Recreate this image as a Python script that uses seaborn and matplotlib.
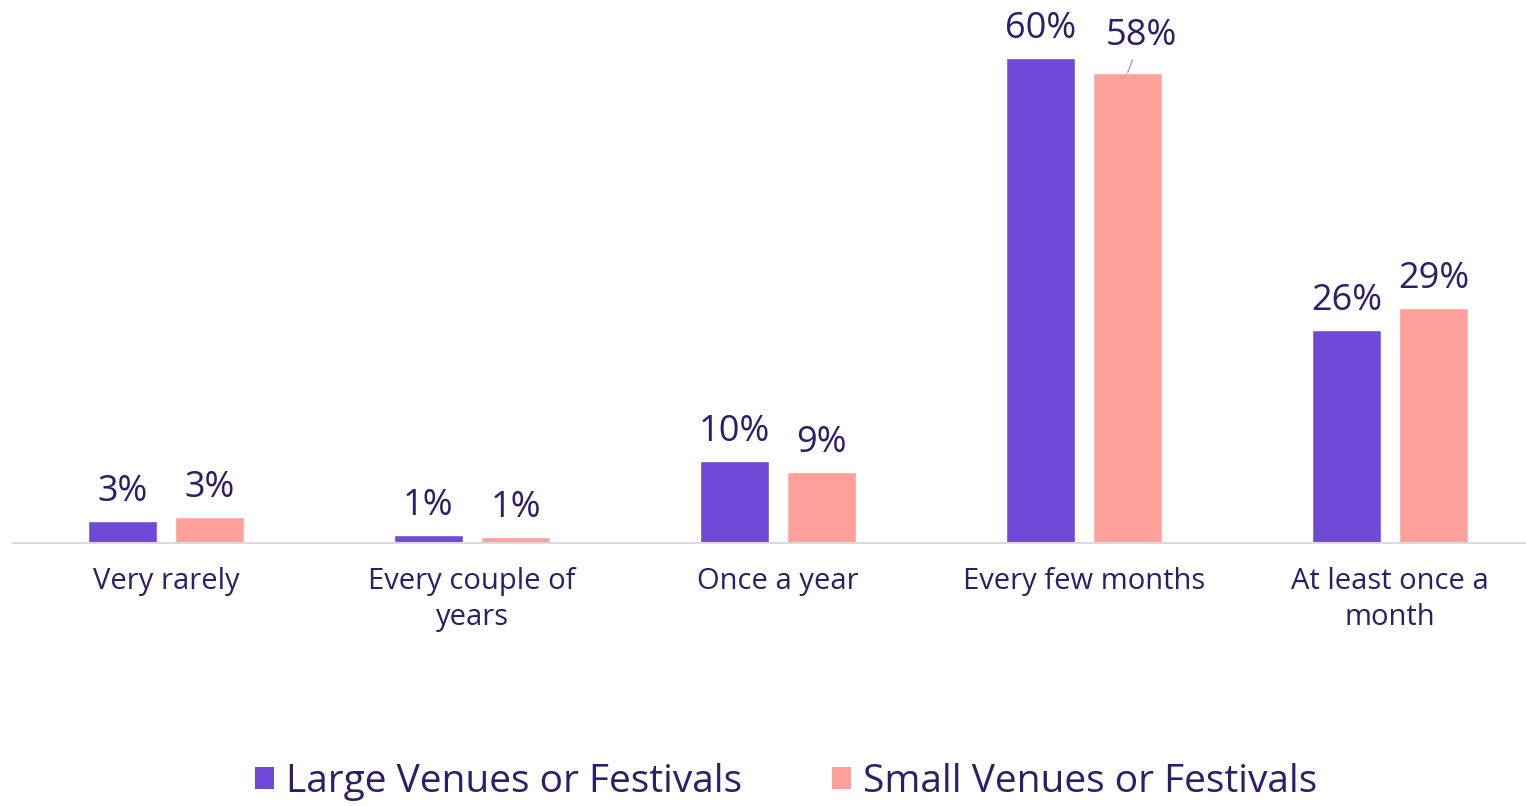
import pandas as pd
import matplotlib.pyplot as plt
import seaborn as sns
from matplotlib.patches import Patch

# 데이터
categories = ['Very rarely', 'Every couple of\nyears', 'Once a year',
              'Every few months', 'At least once a\nmonth']
large_venues = [2.7, 1.0, 10.1, 60.0, 26.4]
small_venues = [3.2, 0.7, 8.8, 58.2, 29.1]
series_names = ['Large Venues or Festivals', 'Small Venues or Festivals']
colors = ['#7149D8', '#FFA19A']
text_color = '#2F1C6A'

df = pd.DataFrame({
    'category': categories * 2,
    'value': large_venues + small_venues,
    'series': [series_names[0]] * len(categories) + [series_names[1]] * len(categories),
})

sns.set_style('white')
plt.rcParams['font.family'] = ['Open Sans', 'DejaVu Sans']

fig = plt.figure(figsize=(15.26, 8.06), dpi=100)
ax = fig.add_axes([13 / 1526, 263 / 806, 1530 / 1526, 543 / 806])

sns.barplot(data=df, x='category', y='value', hue='series', palette=colors,
            width=0.57, gap=0.21, saturation=1, ax=ax, legend=False)

ax.set_xlim(-0.5, 4.5)
ax.set_ylim(0, 67.2)
ax.set_xlabel('')
ax.set_ylabel('')
ax.set_yticks([])
for side in ['top', 'right', 'left']:
    ax.spines[side].set_visible(False)
ax.spines['bottom'].set_color('#D9DAE3')
ax.spines['bottom'].set_linewidth(1.5)
ax.tick_params(axis='x', length=0, pad=17, labelsize=21, labelcolor=text_color)
for lbl in ax.get_xticklabels():
    lbl.set_linespacing(1.35)

# 값 라벨
for cont, vals in zip(ax.containers, [large_venues, small_venues]):
    for bar, v in zip(cont, vals):
        x = bar.get_x() + bar.get_width() / 2
        y = bar.get_height()
        dx, dy = 0, 14.5
        arrow = None
        if v == 58.2:
            dx, dy = 10, 20
            arrow = dict(arrowstyle='-', color='#A6B3C6', lw=1.2, shrinkA=2, shrinkB=0)
        ax.annotate(f'{v:.0f}%', (x, y), xytext=(dx, dy), textcoords='offset points',
                    ha='center', va='baseline', fontsize=26, color=text_color,
                    arrowprops=arrow)

handles = [Patch(facecolor=c, edgecolor='none') for c in colors]
fig.legend(handles, series_names, loc='center', bbox_to_anchor=(786 / 1526, 1 - 782 / 806),
           ncol=2, frameon=False, fontsize=28, labelcolor=text_color,
           handlelength=0.5, handleheight=0.5, handletextpad=0.3, columnspacing=2.3)

fig.savefig('out.png', dpi=100)
